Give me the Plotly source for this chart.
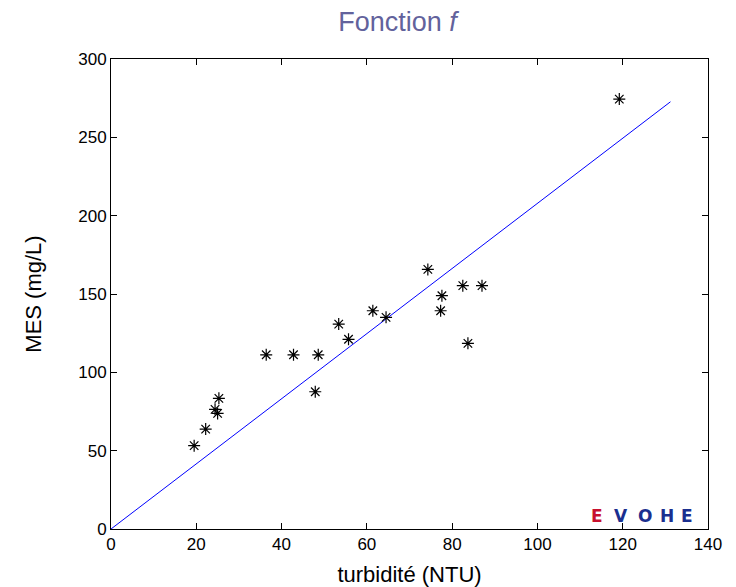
import plotly.graph_objects as go

# measured points
turbidite = [19.5, 22.2, 24.4, 25.0, 25.3, 36.4, 42.8, 48.6, 47.9, 53.4, 55.7,
             61.4, 64.5, 74.3, 77.6, 77.3, 82.5, 87.0, 83.7, 119.2]
mes = [53.2, 63.8, 76.4, 73.8, 83.4, 111.2, 111.2, 111.2, 87.6, 130.8, 121.1,
       139.3, 135.1, 165.7, 148.9, 139.3, 155.3, 155.3, 118.5, 274.4]

# fitted function f
f_x = [0, 20, 40, 60, 80, 100, 120, 131.2]
f_y = [0, 41.6, 83.0, 125.0, 166.5, 208.0, 249.6, 272.7]

x_ticks = [0, 20, 40, 60, 80, 100, 120, 140]
y_ticks = [0, 50, 100, 150, 200, 250, 300]

logo_letters = ["E", "V", "O", "H", "E"]
logo_colors = ["#c8102e", "#1a2f8f", "#1a2f8f", "#1a2f8f", "#1a2f8f"]

FONT = "Liberation Sans, Arial"

fig = go.Figure()
fig.add_trace(go.Scatter(x=f_x, y=f_y, mode="lines",
                         line=dict(color="#0000ff", width=1), showlegend=False))
fig.add_trace(go.Scatter(x=turbidite, y=mes, mode="markers",
                         marker=dict(symbol="asterisk-open", size=10,
                                     color="black", line=dict(color="black", width=1.2)),
                         showlegend=False))

axis_common = dict(showgrid=False, zeroline=False, showline=True, linecolor="black",
                   linewidth=1, mirror="ticks", ticks="inside", ticklen=6,
                   automargin=False,
                   tickcolor="black", tickfont=dict(family=FONT, size=17, color="black"))

fig.update_layout(
    width=736, height=587,
    margin=dict(l=111, r=28, t=59, b=58),
    paper_bgcolor="white", plot_bgcolor="white",
    title=dict(text="Fonction <i>f</i>", x=0.54, xanchor="center", y=0.9625, yanchor="middle",
               font=dict(family=FONT, size=27, color="#62629c")),
    xaxis=dict(range=[0, 140], tickvals=x_ticks,
               title=dict(text="turbidité (NTU)", standoff=15,
                          font=dict(family=FONT, size=22, color="black")),
               **axis_common),
    yaxis=dict(range=[0, 300], tickvals=y_ticks,
               title=dict(text="MES (mg/L)", standoff=30,
                          font=dict(family=FONT, size=22, color="black")),
               **axis_common),
)

logo_x = [114.0, 119.7, 125.2, 130.5, 135.0]
for letter, col, lx in zip(logo_letters, logo_colors, logo_x):
    fig.add_annotation(x=lx, y=8.3, xref="x", yref="y", showarrow=False,
                       text=f"<b>{letter}</b>",
                       font=dict(family="DejaVu Sans", size=17, color=col))

fig.write_html("out.html")
